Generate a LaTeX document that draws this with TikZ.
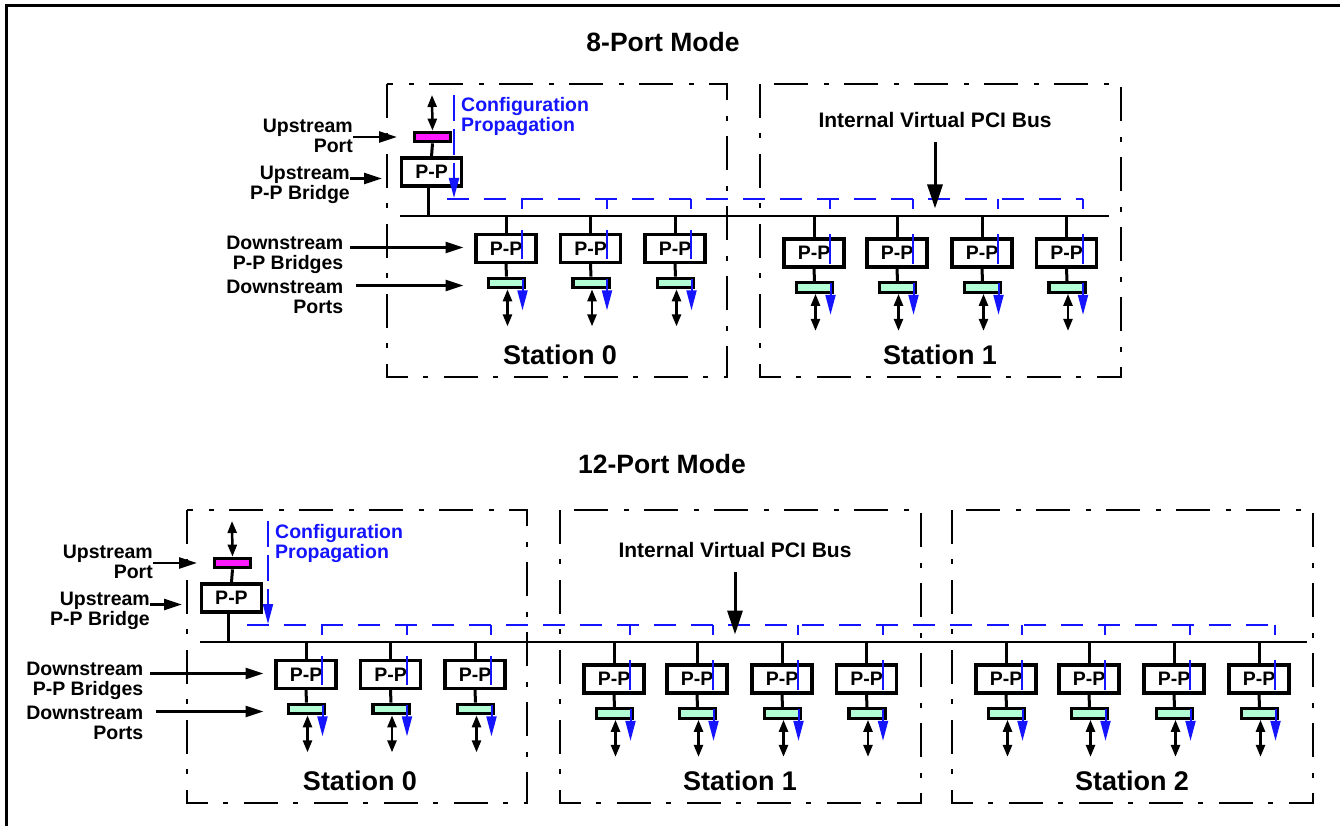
\documentclass[tikz,border=0pt]{standalone}
\usepackage{fontspec}
\setmainfont{Liberation Sans}
\usetikzlibrary{arrows.meta}
\definecolor{cfgblue}{RGB}{20,20,255}
\definecolor{portmag}{RGB}{255,26,255}
\definecolor{portmint}{RGB}{178,255,214}
\newcommand\lblfont{\bfseries\fontsize{19.5}{20}\selectfont}
\tikzset{
  stationbox/.style={draw, line width=2.5pt, dash pattern=on 34pt off 15pt on 5pt off 16pt},
  bridge/.style={draw, line width=3.2pt, minimum width=60pt, minimum height=28pt, inner sep=0pt, fill=white, font=\lblfont},
  dport/.style={draw, line width=3.2pt, minimum width=36pt, minimum height=9.5pt, inner sep=0pt, fill=portmint},
  uport/.style={draw, line width=3.2pt, minimum width=36pt, minimum height=9.5pt, inner sep=0pt, fill=portmag},
  wire/.style={line width=3pt},
  busline/.style={line width=2.8pt},
  dbl/.style={line width=2.5pt, {Triangle[length=12pt,width=9pt]}-{Triangle[length=12pt,width=9pt]}},
  lblarrow/.style={line width=2.5pt, -{Triangle[length=18pt,width=11pt]}},
  busarrow/.style={line width=3pt, -{Triangle[length=24pt,width=15pt]}},
  cfgdash/.style={cfgblue, line width=2pt, dash pattern=on 22pt off 15pt},
  cfgvert/.style={cfgblue, line width=2pt, dash pattern=on 26pt off 8pt, -{Triangle[length=20pt,width=10pt]}},
  cfgline/.style={cfgblue, line width=2pt},
  cfgarrow/.style={cfgblue, line width=2pt, -{Triangle[length=20pt,width=10pt]}},
  lbl/.style={font=\lblfont, align=right, inner sep=0pt},
  cfgtext/.style={font=\lblfont, align=left, inner sep=0pt, text=cfgblue},
  stat/.style={font=\bfseries\fontsize{27}{30}\selectfont, inner sep=0pt},
  mtitle/.style={font=\bfseries\fontsize{26.5}{30}\selectfont, inner sep=0pt},
  buslbl/.style={font=\bfseries\fontsize{21}{24}\selectfont, inner sep=0pt},
}
% downstream bridge: #1 name, #2 x, #3 y of bridge centre, #4 bus coordinate
\newcommand\dsb[4]{%
  \node[bridge] (#1b) at (#2,#3) {P-P};
  \node[dport] (#1p) at (#2+0.5,#3+34.5) {};
  \draw[wire] (#1b.north) -- (#1b.north |- #4);
  \draw[wire] (#1b.south) -- (#1p.north);
  \coordinate (#1t) at (#2+16,199);
  \coordinate (#1u) at (#2+16,209);
  \draw[cfgline] (#1t) -- (#1u);
  \draw[cfgline] ([xshift=16pt,yshift=3pt]#1b.north) -- ([xshift=16pt,yshift=5pt]#1b.south);
  \draw[cfgarrow] ([xshift=16pt,yshift=-2pt]#1p.north) -- ([xshift=16pt,yshift=-21pt]#1p.south);
  \coordinate (#1e) at ([xshift=1pt,yshift=-37pt]#1p.south);
  \draw[dbl] ([xshift=1pt]#1p.south) -- (#1e);
}
% one half: #1 prefix, #2 blue x, #3 text x, #4 bus right end, #5 blue right end, #6 bus label y
\newcommand\halfdiag[6]{%
  \coordinate (#1busL) at (400,216);
  \coordinate (#1busR) at (#4,216);
  % station frames
  \draw[stationbox] (387,84) rectangle (727,377);
  \draw[stationbox] (760,84) rectangle (1121,377);
  \node[stat] (#1st0) at (560,355) {Station 0};
  \node[stat] (#1st1) at (940,355) {Station 1};
  % blue propagation line
  \coordinate (#1hL) at (447,199);
  \coordinate (#1hR) at (#5,199);
  \draw[cfgdash] (#1hL) -- (#1hR);
  % bus
  \draw[busline] (#1busL) -- (#1busR);
  % upstream
  \node[uport] (#1up) at (432.5,137) {};
  \node[bridge] (#1ub) at (431.5,172) {P-P};
  \draw[wire] (#1up.south) -- (#1ub.north);
  \draw[wire] ([xshift=-3pt]#1ub.south) -- ([xshift=-3pt]#1ub.south |- #1busL);
  \coordinate (#1upin) at (432,95);
  \draw[dbl] (#1upin) -- (#1up.north);
  \coordinate (#1cfgA) at (#2,95);
  \coordinate (#1cfgB) at (#2,198);
  \draw[cfgvert] (#1cfgA) -- (#1cfgB);
  \node[cfgtext, anchor=west] (#1cfg) at (#3,117) {Configuration\\Propagation};
  % left labels
  \node[lbl, anchor=east] (#1lup) at (353,136) {Upstream\\Port};
  \coordinate (#1lupT) at (397,137);
  \draw[lblarrow] (#1lup.east |- #1lupT) -- (#1lupT);
  \node[lbl, anchor=east] (#1lub) at (350,185) {Upstream\\P-P Bridge};
  \coordinate (#1lubT) at (382,178.5);
  \draw[lblarrow] (#1lub.east |- #1lubT) -- (#1lubT);
  \node[lbl, anchor=east] (#1ldb) at (343.5,254.5) {Downstream\\P-P Bridges};
  \coordinate (#1ldbT) at (463.5,247.5);
  \draw[lblarrow] ([xshift=6.5pt]#1ldb.east |- #1ldbT) -- (#1ldbT);
  \node[lbl, anchor=east] (#1ldp) at (343.5,296.5) {Downstream\\Ports};
  \coordinate (#1ldpT) at (463.5,285.5);
  \draw[lblarrow] ([xshift=12.5pt]#1ldp.east |- #1ldpT) -- (#1ldpT);
  % downstream bridges
  \foreach \i/\x in {1/506,2/590.5,3/675}{\dsb{#1s0\i}{\x}{248.5}{#1busL}}
  \foreach \i/\x in {1/814,2/897,3/982,4/1066.5}{\dsb{#1s1\i}{\x}{253}{#1busL}}
  % internal bus label
  \node[buslbl] (#1iv) at (935,#6) {Internal Virtual PCI Bus};
  \coordinate (#1ivT) at (935,208.5);
  \draw[busarrow] ([yshift=-14pt]#1iv.south) -- (#1ivT);
}
\begin{document}
\begin{tikzpicture}[x=1pt,y=-1pt]
  \useasboundingbox (0,0) rectangle (1340,826);
  \clip (0,0) rectangle (1340,826);
  \draw[line width=3pt] (6,840) -- (6,5.5) -- (1350,5.5);
  \node[mtitle] (t8) at (663,42) {8-Port Mode};
  \node[mtitle] (t12) at (662,464) {12-Port Mode};
  \halfdiag{a}{454}{461}{1109}{1082.5}{120}
  \begin{scope}[shift={(-200,426)}]
    \halfdiag{b}{468}{475}{1506.5}{1475}{124}
    \draw[stationbox] (1152,84) rectangle (1513,377);
    \node[stat] (bst2) at (1332,355) {Station 2};
    \foreach \i/\x in {1/1206,2/1289,3/1374,4/1459}{\dsb{bs2\i}{\x}{253}{bbusL}}
  \end{scope}
\end{tikzpicture}
\end{document}
